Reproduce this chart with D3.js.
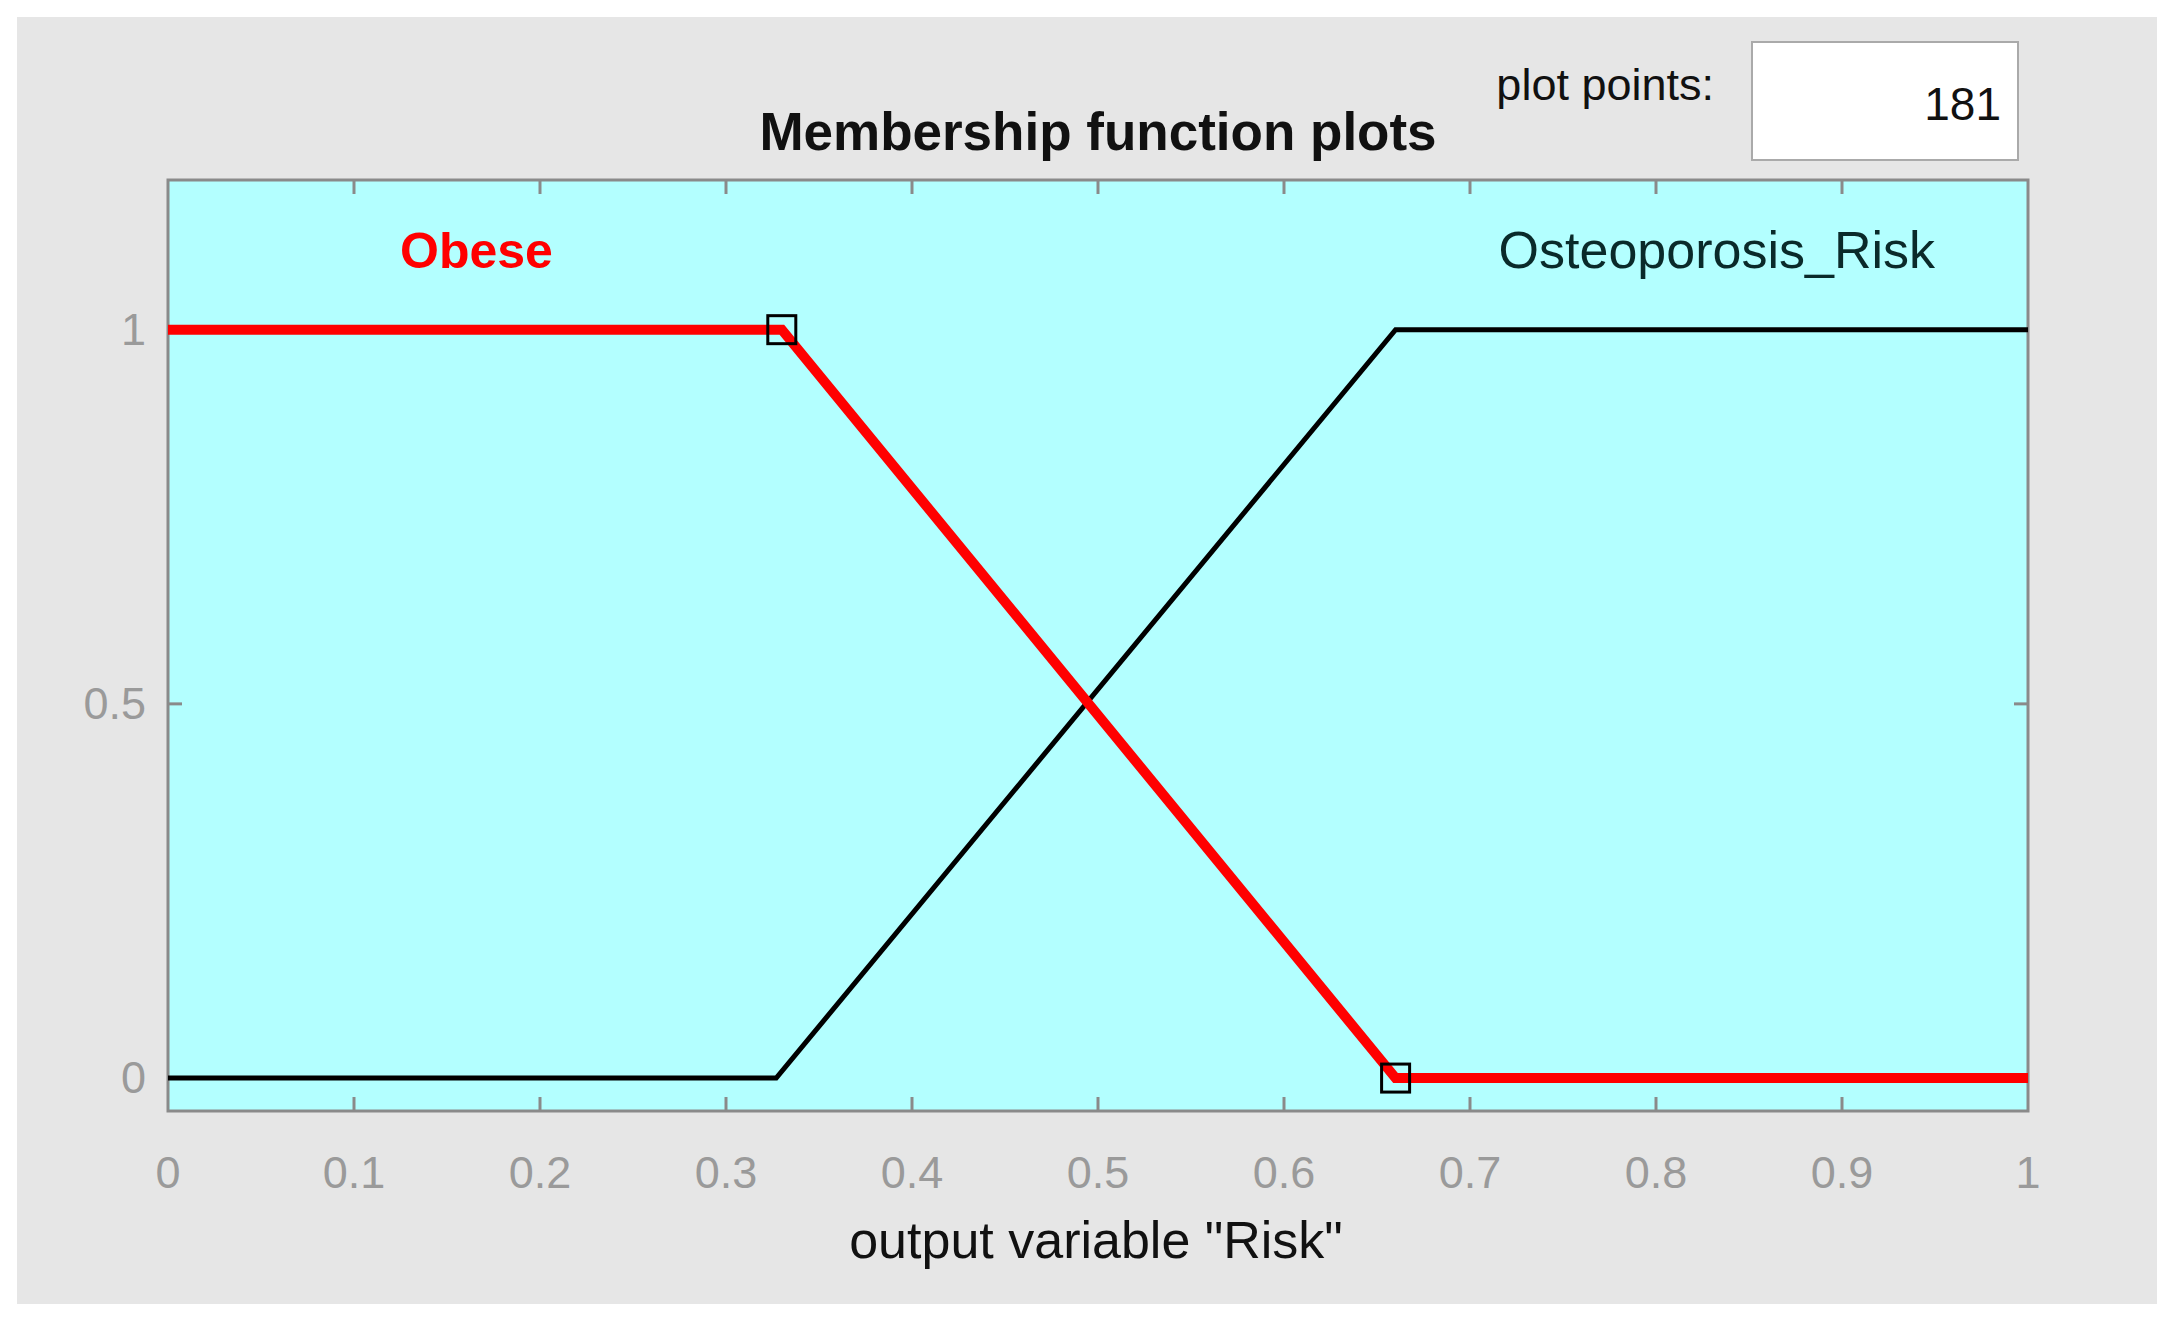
<!DOCTYPE html>
<html><head><meta charset="utf-8">
<script src="https://cdn.jsdelivr.net/npm/d3@7"></script>
<style>body{margin:0;background:#fff}text{font-family:"Liberation Sans",Arial,sans-serif}</style>
</head><body><div id="chart"></div>
<script>
const xTicks = [0,0.1,0.2,0.3,0.4,0.5,0.6,0.7,0.8,0.9,1];
const yTicks = [0,0.5,1];
const obese = [[0,1],[0.33,1],[0.66,0],[1,0]];
const osteo = [[0,0],[0.327,0],[0.66,1],[1,1]];
const markers = [[0.33,1],[0.66,0]];

const W = 2175, H = 1325;
const plot = {left:168, right:2028, top:180, bottom:1111};

const svg = d3.select('#chart').append('svg').attr('width',W).attr('height',H);
svg.append('rect').attr('x',17).attr('y',17).attr('width',2140).attr('height',1287).attr('fill','#e6e6e6');

const x = d3.scaleLinear().domain([0,1]).range([plot.left,plot.right]);
const y = d3.scaleLinear().domain([-0.044,1.2]).range([plot.bottom,plot.top]);

svg.append('rect').attr('x',plot.left).attr('y',plot.top)
  .attr('width',plot.right-plot.left).attr('height',plot.bottom-plot.top)
  .attr('fill','#b3ffff').attr('stroke','#8a8a8a').attr('stroke-width',3);

// inward ticks on all sides
const tk = 14;
const g = svg.append('g').attr('stroke','#8a8a8a').attr('stroke-width',3);
xTicks.slice(1,-1).forEach(t=>{
  g.append('line').attr('x1',x(t)).attr('x2',x(t)).attr('y1',plot.bottom).attr('y2',plot.bottom-tk);
  g.append('line').attr('x1',x(t)).attr('x2',x(t)).attr('y1',plot.top).attr('y2',plot.top+tk);
});
yTicks.forEach(t=>{
  g.append('line').attr('x1',plot.left).attr('x2',plot.left+tk).attr('y1',y(t)).attr('y2',y(t));
  g.append('line').attr('x1',plot.right).attr('x2',plot.right-tk).attr('y1',y(t)).attr('y2',y(t));
});

svg.selectAll('.xl').data(xTicks).enter().append('text')
  .attr('x',d=>x(d)).attr('y',1188).attr('text-anchor','middle')
  .attr('font-size',45).attr('fill','#9a9a9a').text(d=>d);
svg.selectAll('.yl').data(yTicks).enter().append('text')
  .attr('x',plot.left-22).attr('y',d=>y(d)+15).attr('text-anchor','end')
  .attr('font-size',45).attr('fill','#9a9a9a').text(d=>d);

const line = d3.line().x(d=>x(d[0])).y(d=>y(d[1]));
svg.append('path').attr('d',line(osteo)).attr('fill','none').attr('stroke','#000').attr('stroke-width',5);
svg.append('path').attr('d',line(obese)).attr('fill','none').attr('stroke','#ff0000').attr('stroke-width',10);
svg.selectAll('.mk').data(markers).enter().append('rect')
  .attr('x',d=>x(d[0])-14).attr('y',d=>y(d[1])-14).attr('width',28).attr('height',28)
  .attr('fill','none').attr('stroke','#000').attr('stroke-width',3);

svg.append('text').attr('x',400).attr('y',268).attr('font-size',50).attr('font-weight','bold')
  .attr('fill','#ff0000').text('Obese');
svg.append('text').attr('x',1935).attr('y',268).attr('font-size',52).attr('text-anchor','end')
  .attr('fill','#0a2a2a').text('Osteoporosis_Risk');

svg.append('text').attr('x',1098).attr('y',150).attr('font-size',53).attr('font-weight','bold')
  .attr('text-anchor','middle').attr('fill','#111').text('Membership function plots');
svg.append('text').attr('x',1096).attr('y',1258).attr('font-size',52)
  .attr('text-anchor','middle').attr('fill','#111').text('output variable "Risk"');

svg.append('text').attr('x',1714).attr('y',100).attr('font-size',45).attr('text-anchor','end')
  .attr('fill','#111').text('plot points:');
svg.append('rect').attr('x',1752).attr('y',42).attr('width',266).attr('height',118)
  .attr('fill','#fff').attr('stroke','#aaa').attr('stroke-width',2);
svg.append('text').attr('x',2001).attr('y',120).attr('font-size',46).attr('text-anchor','end')
  .attr('fill','#111').text('181');
</script></body></html>
